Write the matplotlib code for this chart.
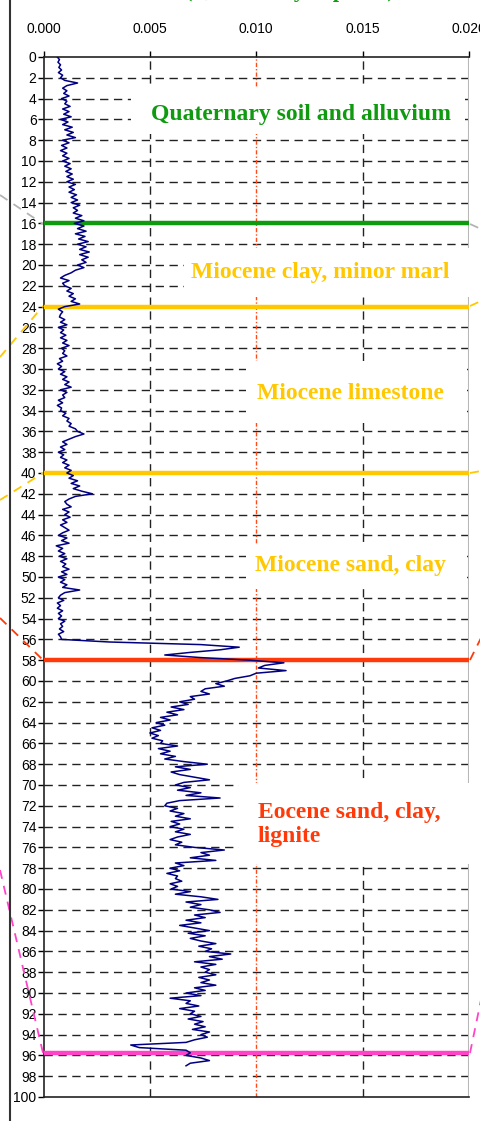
import numpy as np
import matplotlib.pyplot as plt
from matplotlib.patches import Rectangle
from matplotlib.lines import Line2D

# conductivity log, sampled every 0.25 m from 0 to 97 m (values in 1e-4 units)
cond_e4 = [
    6.5, 7.5, 6.8, 8.0,   7.2, 8.5, 7.0, 9.0,   8.0, 10.0, 16.0, 11.0,  9.0, 11.0, 9.5, 12.0,
    8.5, 11.0, 10.0, 12.5, 9.0, 12.0, 9.5, 13.0, 8.0, 11.5, 9.0, 13.5,  10.0, 14.0, 11.0, 15.0,
    9.0, 12.0, 8.5, 11.0,  8.0, 11.0, 9.0, 12.0,  9.0, 12.5, 10.0, 13.0, 10.5, 13.5, 11.0, 14.0,
    11.0, 15.0, 12.0, 14.5, 12.0, 15.5, 13.0, 16.0, 13.0, 17.0, 14.0, 16.0, 14.0, 18.0, 15.0, 19.0,
    14.5, 19.0, 16.0, 20.0, 15.0, 19.5, 16.5, 21.0, 16.0, 20.0, 17.0, 21.5, 17.0, 21.0, 18.0, 20.0,
    16.0, 19.0, 15.0, 13.0, 10.0, 8.0, 12.0, 9.0,  10.0, 13.0, 11.0, 14.0, 12.0, 15.0, 13.0, 17.0,
    10.0, 7.0, 9.0, 8.0,   7.5, 10.0, 8.0, 11.0,  7.0, 9.5, 8.0, 10.5,   8.0, 11.0, 9.0, 12.0,
    8.5, 10.0, 9.0, 11.0,  7.5, 9.0, 6.5, 8.5,    7.0, 10.0, 8.0, 11.0,  9.0, 12.0, 10.0, 13.0,
    8.0, 11.0, 9.0, 10.0,  7.0, 9.0, 6.5, 8.5,    8.0, 10.5, 9.0, 12.0,  11.0, 13.0, 12.0, 15.0,
    16.0, 19.0, 15.0, 12.0, 9.0, 11.0, 8.0, 10.0, 7.0, 9.5, 8.0, 11.0,   9.0, 12.0, 10.0, 13.0,
    11.0, 14.0, 12.0, 16.0, 13.0, 17.0, 14.0, 18.0, 23.0, 15.0, 12.0, 10.0, 11.0, 13.0, 9.0, 12.0,
    10.0, 12.5, 9.0, 11.0, 8.0, 10.0, 12.0, 9.0,  7.0, 11.0, 8.5, 12.0,  6.0, 9.0, 7.0, 10.0,
    7.5, 11.0, 8.0, 10.5,  9.0, 12.0, 8.5, 11.0,  7.0, 10.0, 8.0, 11.0,  9.0, 17.0, 10.0, 8.0,
    7.0, 9.5, 6.5, 8.0,    6.5, 9.0, 7.0, 8.5,    7.0, 10.0, 8.0, 9.0,   7.5, 9.5, 7.0, 8.0,
    8.5, 31.0, 74.0, 92.0, 83.0, 69.0, 57.0, 74.0, 97.0, 113.0, 104.0, 101.0, 114.0, 100.0, 97.0, 90.0,
    86.0, 81.0, 85.0, 76.0, 74.0, 78.0, 69.0, 71.0, 64.0, 68.0, 60.0, 66.0, 58.0, 63.0, 55.0, 59.5,
    53.0, 57.0, 51.0, 55.0, 50.0, 54.0, 51.0, 56.0, 55.0, 63.0, 54.0, 59.5, 55.0, 62.0, 57.0, 66.0,
    77.0, 62.0, 69.0, 60.0, 64.0, 71.0, 78.0, 66.0, 62.0, 69.0, 63.0, 74.0, 67.0, 83.0, 64.0, 58.0,
    57.0, 63.0, 59.5, 66.0, 62.0, 69.0, 60.0, 64.0, 59.5, 66.0, 62.0, 69.0, 63.0, 59.5, 65.0, 62.0,
    71.0, 85.0, 74.0, 78.0, 69.0, 81.0, 62.0, 66.0, 59.5, 64.0, 58.0, 63.0, 62.0, 65.0, 59.5, 63.0,
    60.0, 69.0, 62.0, 74.0, 82.0, 67.0, 74.0, 69.0, 78.0, 83.0, 71.0, 76.0, 67.0, 74.0, 64.0, 71.0,
    78.0, 68.0, 76.0, 69.0, 74.0, 81.0, 73.0, 79.0, 76.0, 88.0, 78.0, 84.0, 71.0, 81.0, 74.0, 78.0,
    76.0, 81.0, 73.0, 78.0, 74.0, 81.0, 71.0, 76.0, 67.0, 74.0, 59.5, 69.0, 67.0, 73.0, 64.0, 71.0,
    69.0, 74.0, 68.0, 75.0, 71.0, 76.0, 70.0, 78.0, 74.0, 77.0, 71.0, 67.0, 41.0, 45.0, 67.0, 69.0,
    67.0, 74.0, 78.0, 69.0, 67.0,
]
depth = np.arange(len(cond_e4)) * 0.25
cond = np.array(cond_e4) * 1e-4

# formation boundaries (m) and colours
tops = [16.0, 24.0, 40.0, 58.0, 95.8]
top_cols = ['#109a10', '#ffc800', '#ffc800', '#ff3a0a', '#ff44c8']

units = ['Quaternary soil and alluvium', 'Miocene clay, minor marl',
         'Miocene limestone', 'Miocene sand, clay', 'Eocene sand, clay,\nlignite']
unit_cols = ['#109a10', '#ffc800', '#ffc800', '#ffc800', '#ff3a0a']
unit_x = [0.0121, 0.0130, 0.01445, 0.01445, 0.01008]
unit_y = [5.5, 20.7, 32.4, 48.9, 73.8]
unit_ha = ['center', 'center', 'center', 'center', 'left']
# white label boxes: x0, x1, depth0, depth1
boxes = [(0.0041, 0.0198, 3.0, 7.4), (0.0066, 0.0202, 18.4, 23.1),
         (0.0095, 0.0199, 29.2, 35.2), (0.0095, 0.0199, 46.8, 51.2),
         (0.0092, 0.0202, 69.8, 77.6)]

W, H = 481, 1121
fig = plt.figure(figsize=(W / 100, H / 100), dpi=100)
ax = fig.add_axes([43.5 / W, 1 - 1097 / H, (469 - 43.5) / W, (1097 - 57) / H])

tickfont = ['Liberation Sans Narrow', 'Liberation Sans', 'DejaVu Sans']
serif = ['Liberation Serif', 'DejaVu Serif']

ax.set_xlim(0, 0.02)
ax.set_ylim(100, 0)
ax.xaxis.set_ticks_position('top')
ax.set_xticks([0, 0.005, 0.01, 0.015, 0.02])
ax.set_xticklabels(['0.000', '0.005', '0.010', '0.015', '0.020'])
ax.set_yticks(np.arange(0, 101, 2))
ax.tick_params(axis='x', direction='out', length=4, pad=11, labelsize=10, width=1)
ax.tick_params(axis='y', direction='out', length=4, pad=1, labelsize=10, width=1)
for lab in ax.get_xticklabels() + ax.get_yticklabels():
    lab.set_family(tickfont)
for s in ['left', 'top', 'bottom']:
    ax.spines[s].set_color('#222222')
    ax.spines[s].set_linewidth(1.2)
ax.spines['right'].set_visible(False)

# grid
for d in range(2, 100, 2):
    ax.axhline(d, color='#222222', lw=1, dashes=(6, 4), zorder=1)
for x in [0.005, 0.015]:
    ax.axvline(x, color='#222222', lw=1, dashes=(6, 4), zorder=1)
ax.axvline(0.010, color='#ff4a1a', lw=1, dashes=(3, 1.5, 1, 1.5), zorder=1)
ax.axvline(0.020, color='#b8b8b8', lw=1.5, zorder=1)

for x0, x1, d0, d1 in boxes:
    ax.add_patch(Rectangle((x0, d0), x1 - x0, d1 - d0, facecolor='white',
                           edgecolor='none', zorder=2, clip_on=False))

for t, c in zip(tops, top_cols):
    ax.axhline(t, color=c, lw=3.2, zorder=3)

ax.plot(cond, depth, color='#000080', lw=1.1, zorder=4)

for txt, c, x, y, ha in zip(units, unit_cols, unit_x, unit_y, unit_ha):
    ax.text(x, y, txt, color=c, ha=ha, va='center', fontsize=17, fontweight='bold',
            family=serif, linespacing=1.2, zorder=5)

# link lines running off to the neighbouring panels (pixel coords from top-left)
links = [
    ('#b4b4b4', (0, 195), (43, 224)), ('#b4b4b4', (470, 224), (481, 229)),
    ('#ffc800', (0, 357), (43, 306)), ('#ffc800', (470, 306), (481, 301)),
    ('#ffc800', (0, 500), (43, 473)), ('#ffc800', (470, 473), (481, 471)),
    ('#ff3a0a', (0, 618), (43, 660)), ('#ff3a0a', (470, 660), (481, 638)),
    ('#ff44c8', (0, 870), (43, 1053)), ('#ff44c8', (470, 1053), (481, 1000)),
]
for c, p0, p1 in links:
    fig.add_artist(Line2D([p0[0] / W, p1[0] / W], [1 - p0[1] / H, 1 - p1[1] / H],
                          color=c, lw=1.3, dashes=(5, 4), transform=fig.transFigure))

# frame edge of the page on the left
fig.add_artist(Line2D([10 / W, 10 / W], [0, 1], color='#333333', lw=1.5,
                      transform=fig.transFigure))

fig.text(290 / W, 1 + 2.5 / H, '(Quaternary deposits)', color='#109a10', ha='center',
         va='baseline', fontsize=16, fontweight='bold', family=serif)

fig.savefig('out.png', dpi=100)
